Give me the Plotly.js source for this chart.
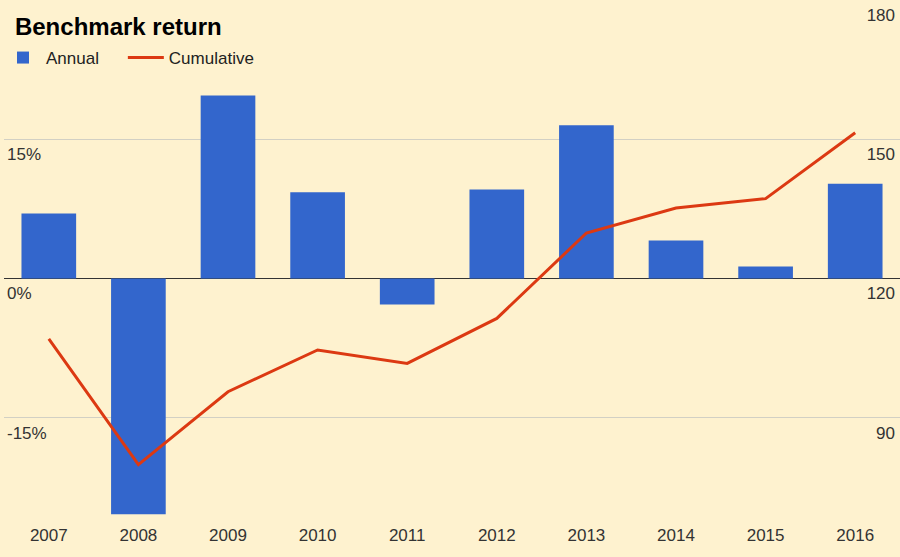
<!DOCTYPE html>
<html>
<head>
<meta charset="utf-8">
<script src="https://cdn.plot.ly/plotly-3.0.1.min.js"></script>
<style>
  html, body { margin: 0; padding: 0; background: #fef2cf; }
  #myDiv { width: 900px; height: 557px; }
</style>
</head>
<body>
<div id="myDiv"></div>
<script>
var years = ["2007","2008","2009","2010","2011","2012","2013","2014","2015","2016"];
var annual = [7.0, -25.4, 19.7, 9.3, -2.8, 9.6, 16.5, 4.1, 1.3, 10.2];
var cumulative = [107.0, 79.9, 95.6, 104.6, 101.7, 111.4, 129.8, 135.2, 137.2, 151.4];

var leftTicks = [-30, -15, 0, 15, 30];
var leftLabels = ["", "-15%", "0%", "15%", ""];
var rightTicks = [60, 90, 120, 150, 180];
var rightLabels = ["", "90", "120", "150", "180"];

var fontFamily = 'Arial, "Liberation Sans", sans-serif';
var tickFont = { family: fontFamily, size: 17, color: '#333' };

// a few no-break spaces widen the first legend entry like the original
var annualTrace = {
  x: years,
  y: annual,
  name: 'Annual\u00a0\u00a0\u00a0\u00a0',
  type: 'bar',
  marker: { color: '#3366cc' }
};

var cumulativeTrace = {
  x: years,
  y: cumulative,
  name: 'Cumulative',
  type: 'scatter',
  mode: 'lines',
  yaxis: 'y2',
  line: { color: '#dc3912', width: 3 }
};

var data = [annualTrace, cumulativeTrace];

var layout = {
  width: 900,
  height: 557,
  margin: { l: 0, r: 0, t: 0, b: 0 },
  paper_bgcolor: '#fef2cf',
  plot_bgcolor: '#fef2cf',
  bargap: 0.39,
  font: tickFont,
  title: {
    text: '<b>Benchmark return</b>',
    font: { family: fontFamily, size: 24, color: '#000' },
    xref: 'paper',
    x: 11 / 900,
    xanchor: 'left',
    yref: 'container',
    y: 1 - 27 / 557,
    yanchor: 'middle'
  },
  showlegend: true,
  legend: {
    orientation: 'h',
    x: -4 / 900,
    xanchor: 'left',
    y: 1 - 58 / 557,
    yanchor: 'middle',
    bgcolor: 'rgba(0,0,0,0)',
    font: { family: fontFamily, size: 17, color: '#222' },
    itemwidth: 36
  },
  xaxis: {
    type: 'category',
    range: [-0.5, 9.5],
    anchor: 'free',
    position: 34 / 557,
    showline: false,
    showgrid: false,
    zeroline: false,
    ticks: '',
    tickfont: tickFont,
    fixedrange: true
  },
  yaxis: {
    range: [-30, 30],
    tickvals: leftTicks,
    ticktext: leftLabels,
    showgrid: true,
    gridcolor: '#d2d0c4',
    zeroline: true,
    zerolinecolor: '#333',
    zerolinewidth: 1,
    ticks: '',
    ticklabelposition: 'inside',
    ticklabelstandoff: 0,
    ticklabelshift: 15,
    tickfont: tickFont,
    fixedrange: true
  },
  yaxis2: {
    range: [60, 180],
    overlaying: 'y',
    side: 'right',
    tickvals: rightTicks,
    ticktext: rightLabels,
    showgrid: false,
    zeroline: false,
    ticks: '',
    ticklabelposition: 'inside',
    ticklabelstandoff: 2,
    ticklabelshift: 15,
    tickfont: tickFont,
    fixedrange: true
  }
};

Plotly.newPlot('myDiv', data, layout, { displayModeBar: false, staticPlot: true });
</script>
</body>
</html>
